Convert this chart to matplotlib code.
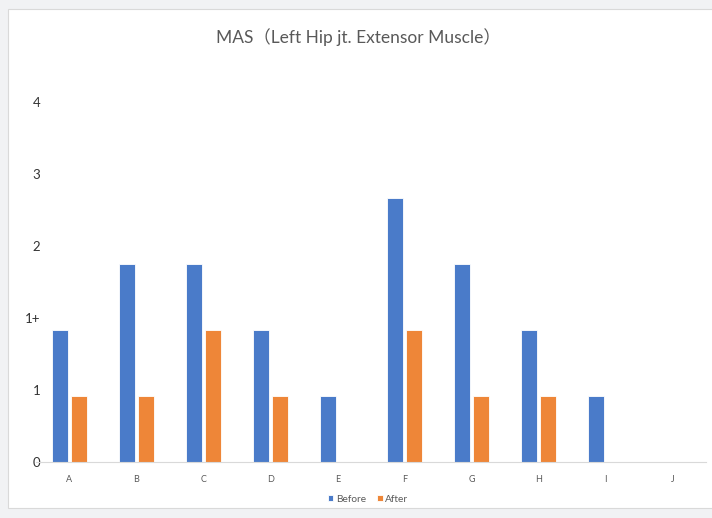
import numpy as np
import matplotlib.pyplot as plt
from matplotlib.patches import Rectangle

categories = ["A", "B", "C", "D", "E", "F", "G", "H", "I", "J"]
before = [1.83, 2.75, 2.75, 1.83, 0.92, 3.66, 2.75, 1.83, 0.92, 0]
after = [0.92, 0.92, 1.83, 0.92, 0, 1.83, 0.92, 0.92, 0, 0]
ytick_labels = ["0", "1", "1+", "2", "3", "4"]

fonts = ["Lato", "Noto Sans CJK SC", "DejaVu Sans"]
plt.rcParams["font.family"] = fonts

fig = plt.figure(figsize=(7.12, 5.18), dpi=100)
fig.patch.set_facecolor("#f1f2f4")
# white chart area, like the Excel chart object
bg = Rectangle((8 / 712, 10 / 518), 1, 1 - 19 / 518,
               transform=fig.transFigure, facecolor="white",
               edgecolor="#d9d9d9", linewidth=0.8, zorder=-10)
fig.add_artist(bg)

ax = fig.add_axes([36 / 712, 1 - 462 / 518, 670 / 712, 360 / 518])
ax.set_facecolor("none")
ax.set_zorder(5)

x = np.arange(len(categories))
w = 0.24
ax.bar(x - 0.145, before, w, color="#4a7bc9", edgecolor="white", linewidth=0.6, label="Before")
ax.bar(x + 0.145, after, w, color="#ee8638", edgecolor="white", linewidth=0.6, label="After")

ax.set_xlim(-0.5, len(categories) - 0.5)
ax.set_ylim(0, 5)
ax.set_yticks(range(len(ytick_labels)))
ax.set_yticklabels(ytick_labels, fontsize=9.5, color="#333333")
ax.set_xticks(x)
ax.set_xticklabels(categories, fontsize=6.5, color="#595959")
ax.tick_params(axis="both", length=0)
ax.tick_params(axis="y", pad=-3)
ax.tick_params(axis="x", pad=9)

for s in ["top", "right", "left"]:
    ax.spines[s].set_visible(False)
ax.spines["bottom"].set_color("#d9d9d9")
ax.spines["bottom"].set_linewidth(0.8)

fig.text(358 / 712, 1 - 37 / 518, "MAS（Left Hip jt. Extensor Muscle）", ha="center", va="center",
         fontsize=12.5, color="#595959")

fig.legend(loc="center", bbox_to_anchor=(368 / 712, 1 - 499 / 518), ncol=2, frameon=False,
           fontsize=7.3, handlelength=0.55, handleheight=0.55, handletextpad=0.25,
           columnspacing=1.1, labelcolor="#595959")

fig.savefig("out.png", dpi=100, facecolor=fig.get_facecolor())
